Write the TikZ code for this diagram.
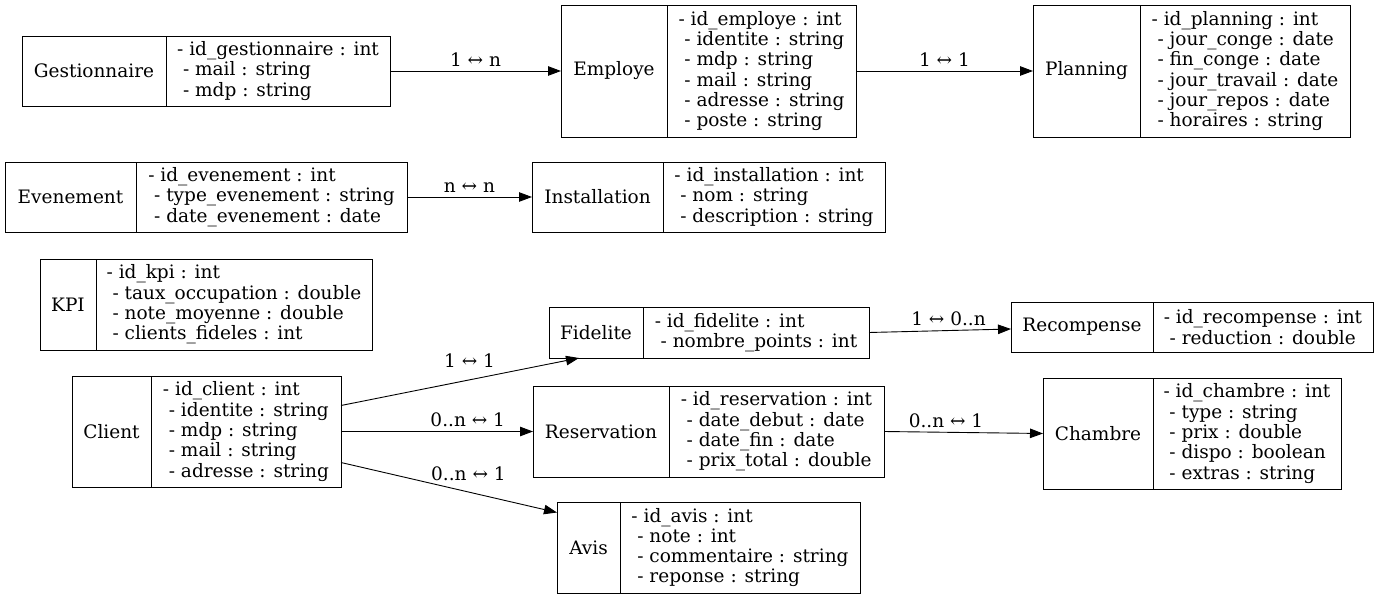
\documentclass[tikz,border=0pt]{standalone}
\usepackage{fontspec}
\setmainfont{DejaVu Serif}
\usetikzlibrary{arrows.meta,positioning}

\begin{document}
\begin{tikzpicture}[x=1pt, y=1pt,
  every node/.style={font=\fontsize{18.5}{20.3}\selectfont},
  recname/.style={draw, line width=0.9pt, outer sep=0pt, inner sep=0pt, anchor=north west},
  recfields/.style={recname, align=left},
  rel/.style={-{Triangle[length=13pt, width=9.5pt]}, line width=0.9pt},
  card/.style={inner sep=1pt, above=3pt}]
  \useasboundingbox (0,0) rectangle (1379,-599);
  % staff side
  \node[recname, minimum width=144pt, minimum height=70pt] (gest) at (22,-36) {Gestionnaire};
  \node[recfields, minimum width=224pt, minimum height=70pt] (gestf) at (gest.north east)
    {- id\_gestionnaire : int\\ ~- mail : string\\ ~- mdp : string};
  \node[recname, minimum width=106pt, minimum height=132pt] (emp) at (561,-5) {Employe};
  \node[recfields, minimum width=189pt, minimum height=132pt] (empf) at (emp.north east)
    {- id\_employe : int\\ ~- identite : string\\ ~- mdp : string\\ ~- mail : string\\ ~- adresse : string\\ ~- poste : string};
  \node[recname, minimum width=107pt, minimum height=132pt] (plan) at (1033,-5) {Planning};
  \node[recfields, minimum width=210pt, minimum height=132pt] (planf) at (plan.north east)
    {- id\_planning : int\\ ~- jour\_conge : date\\ ~- fin\_conge : date\\ ~- jour\_travail : date\\ ~- jour\_repos : date\\ ~- horaires : string};
  % events
  \node[recname, minimum width=131pt, minimum height=70pt] (even) at (5,-162) {Evenement};
  \node[recfields, minimum width=271pt, minimum height=70pt] (evenf) at (even.north east)
    {- id\_evenement : int\\ ~- type\_evenement : string\\ ~- date\_evenement : date};
  \node[recname, minimum width=131pt, minimum height=70pt] (inst) at (532,-162) {Installation};
  \node[recfields, minimum width=222pt, minimum height=70pt] (instf) at (inst.north east)
    {- id\_installation : int\\ ~- nom : string\\ ~- description : string};
  % kpi
  \node[recname, minimum width=56pt, minimum height=91pt] (kpi) at (40,-259) {KPI};
  \node[recfields, minimum width=276pt, minimum height=91pt] (kpif) at (kpi.north east)
    {- id\_kpi : int\\ ~- taux\_occupation : double\\ ~- note\_moyenne : double\\ ~- clients\_fideles : int};
  % client side
  \node[recname, minimum width=79pt, minimum height=111pt] (cli) at (72,-376) {Client};
  \node[recfields, minimum width=190pt, minimum height=111pt] (clif) at (cli.north east)
    {- id\_client : int\\ ~- identite : string\\ ~- mdp : string\\ ~- mail : string\\ ~- adresse : string};
  \node[recname, minimum width=94pt, minimum height=51pt] (fid) at (549,-307) {Fidelite};
  \node[recfields, minimum width=226pt, minimum height=51pt] (fidf) at (fid.north east)
    {- id\_fidelite : int\\ ~- nombre\_points : int};
  \node[recname, minimum width=136pt, minimum height=91pt] (res) at (533,-386) {Reservation};
  \node[recfields, minimum width=215pt, minimum height=91pt] (resf) at (res.north east)
    {- id\_reservation : int\\ ~- date\_debut : date\\ ~- date\_fin : date\\ ~- prix\_total : double};
  \node[recname, minimum width=63pt, minimum height=91pt] (avis) at (557,-502) {Avis};
  \node[recfields, minimum width=240pt, minimum height=91pt] (avisf) at (avis.north east)
    {- id\_avis : int\\ ~- note : int\\ ~- commentaire : string\\ ~- reponse : string};
  \node[recname, minimum width=142pt, minimum height=50pt] (recomp) at (1011,-302) {Recompense};
  \node[recfields, minimum width=220pt, minimum height=50pt] (recompf) at (recomp.north east)
    {- id\_recompense : int\\ ~- reduction : double};
  \node[recname, minimum width=110pt, minimum height=111pt] (ch) at (1043,-378) {Chambre};
  \node[recfields, minimum width=188pt, minimum height=111pt] (chf) at (ch.north east)
    {- id\_chambre : int\\ ~- type : string\\ ~- prix : double\\ ~- dispo : boolean\\ ~- extras : string};
  % relations
  \draw[rel] (gestf.east) -- node[card] {1 ↔ n} (emp.west);
  \draw[rel] (empf.east) -- node[card] {1 ↔ 1} (plan.west);
  \draw[rel] (evenf.east) -- node[card] {n ↔ n} (inst.west);
  \draw[rel] ([yshift=26pt]clif.east) -- node[card, pos=0.54, above=11pt] {1 ↔ 1} ([xshift=-17pt]fid.south);
  \draw[rel] (clif.east) -- node[card, pos=0.66] {0..n ↔ 1} (res.west);
  \draw[rel] ([yshift=-31pt]clif.east) -- node[card, pos=0.59, above=10pt] {0..n ↔ 1} ([yshift=35pt]avis.west);
  \draw[rel] (fidf.east) -- node[card, pos=0.56] {1 ↔ 0..n} ([yshift=-2pt]recomp.west);
  \draw[rel] (resf.east) -- node[card, pos=0.39] {0..n ↔ 1} (ch.west);
\end{tikzpicture}
\end{document}
